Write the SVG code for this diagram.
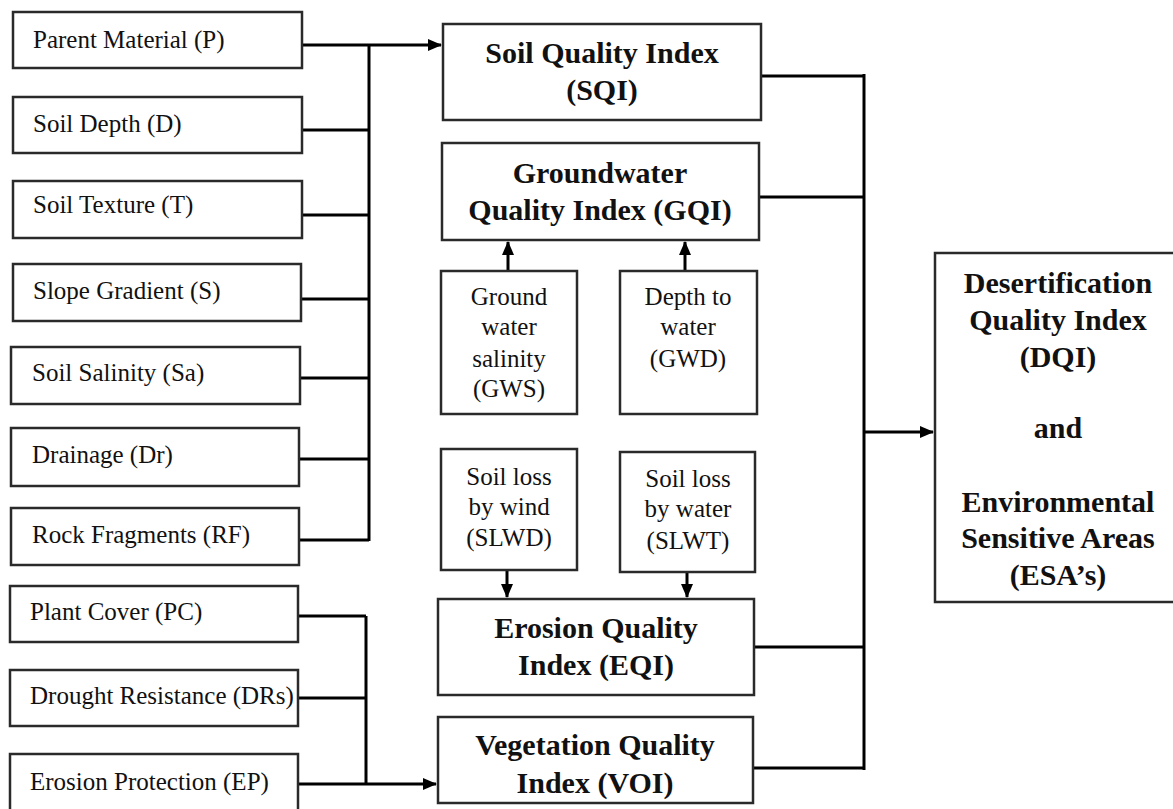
<svg xmlns="http://www.w3.org/2000/svg" width="1173" height="809" viewBox="0 0 1173 809">
<style>
.box{fill:#fff;stroke:#2a2a2a;stroke-width:2.5}
.t{font-family:"Liberation Serif","Times New Roman",serif;font-size:25px;fill:#111}
.b{font-family:"Liberation Serif","Times New Roman",serif;font-size:30px;font-weight:bold;fill:#111;text-anchor:middle}
.c{text-anchor:middle}
.ln{fill:none;stroke:#000;stroke-width:3}
</style>
<defs>
<marker id="ah" markerUnits="userSpaceOnUse" markerWidth="14" markerHeight="12" refX="13" refY="6" orient="auto">
<path d="M0,0 L14,6 L0,12 Z" fill="#000"/>
</marker>
</defs>
<rect width="1173" height="809" fill="#fff"/>

<g id="connectors">
<path class="ln" d="M302,45 H441" marker-end="url(#ah)"/>
<path class="ln" d="M369,45 V541"/>
<path class="ln" d="M302,130 H369 M302,215 H369 M301,299 H369 M300,378 H369 M299,459 H369 M299,540 H369"/>
<path class="ln" d="M366,616 V784 M298,616 H366 M298,698 H366"/>
<path class="ln" d="M298,784 H436" marker-end="url(#ah)"/>
<path class="ln" d="M508,271 V242" marker-end="url(#ah)"/>
<path class="ln" d="M685,271 V242" marker-end="url(#ah)"/>
<path class="ln" d="M507,570 V597" marker-end="url(#ah)"/>
<path class="ln" d="M687,572 V597" marker-end="url(#ah)"/>
<path class="ln" d="M761,76 H864 M759,197 H864 M754,647 H864 M753,768 H864 M864,74 V770"/>
<path class="ln" d="M864,432 H933" marker-end="url(#ah)"/>
</g>

<g id="n-parent"><rect class="box" x="13" y="12" width="289" height="56"/><text class="t" x="33" y="48">Parent Material (P)</text></g>
<g id="n-depth"><rect class="box" x="13" y="97" width="289" height="56"/><text class="t" x="33" y="132">Soil Depth (D)</text></g>
<g id="n-texture"><rect class="box" x="13" y="181" width="289" height="57"/><text class="t" x="33" y="213">Soil Texture (T)</text></g>
<g id="n-slope"><rect class="box" x="13" y="264" width="288" height="57"/><text class="t" x="33" y="299">Slope Gradient (S)</text></g>
<g id="n-salinity"><rect class="box" x="11" y="347" width="289" height="57"/><text class="t" x="32" y="381">Soil Salinity (Sa)</text></g>
<g id="n-drainage"><rect class="box" x="11" y="428" width="288" height="58"/><text class="t" x="32" y="463">Drainage (Dr)</text></g>
<g id="n-rock"><rect class="box" x="11" y="508" width="288" height="57"/><text class="t" x="32" y="543">Rock Fragments (RF)</text></g>
<g id="n-plant"><rect class="box" x="10" y="586" width="288" height="56"/><text class="t" x="30" y="620">Plant Cover (PC)</text></g>
<g id="n-drought"><rect class="box" x="10" y="670" width="288" height="56"/><text class="t" x="30" y="704">Drought Resistance (DRs)</text></g>
<g id="n-ep"><rect class="box" x="10" y="754" width="288" height="60"/><text class="t" x="30" y="790">Erosion Protection (EP)</text></g>

<g id="n-sqi"><rect class="box" x="443" y="24" width="318" height="96"/><text class="b" x="602" y="63">Soil Quality Index</text><text class="b" x="602" y="100">(SQI)</text></g>
<g id="n-gqi"><rect class="box" x="442" y="143" width="317" height="97"/><text class="b" x="600" y="183">Groundwater</text><text class="b" x="600" y="220">Quality Index (GQI)</text></g>
<g id="n-gws"><rect class="box" x="441" y="271" width="136" height="143"/><text class="t c" x="509" y="305">Ground</text><text class="t c" x="509" y="335">water</text><text class="t c" x="509" y="367">salinity</text><text class="t c" x="509" y="397">(GWS)</text></g>
<g id="n-gwd"><rect class="box" x="620" y="271" width="137" height="143"/><text class="t c" x="688" y="305">Depth to</text><text class="t c" x="688" y="335">water</text><text class="t c" x="688" y="367">(GWD)</text></g>
<g id="n-slwd"><rect class="box" x="441" y="449" width="136" height="121"/><text class="t c" x="509" y="485">Soil loss</text><text class="t c" x="509" y="515">by wind</text><text class="t c" x="509" y="546">(SLWD)</text></g>
<g id="n-slwt"><rect class="box" x="620" y="452" width="135" height="120"/><text class="t c" x="688" y="487">Soil loss</text><text class="t c" x="688" y="517">by water</text><text class="t c" x="688" y="549">(SLWT)</text></g>
<g id="n-eqi"><rect class="box" x="438" y="599" width="316" height="96"/><text class="b" x="596" y="638">Erosion Quality</text><text class="b" x="596" y="675">Index (EQI)</text></g>
<g id="n-vqi"><rect class="box" x="438" y="717" width="315" height="86"/><text class="b" x="595" y="755">Vegetation Quality</text><text class="b" x="595" y="793">Index (VOI)</text></g>

<g id="n-dqi"><rect class="box" x="935" y="253" width="250" height="349"/>
<text class="b" x="1058" y="293">Desertification</text>
<text class="b" x="1058" y="330">Quality Index</text>
<text class="b" x="1058" y="367">(DQI)</text>
<text class="b" x="1058" y="438">and</text>
<text class="b" x="1058" y="512">Environmental</text>
<text class="b" x="1058" y="548">Sensitive Areas</text>
<text class="b" x="1058" y="585">(ESA’s)</text>
</g>
</svg>
